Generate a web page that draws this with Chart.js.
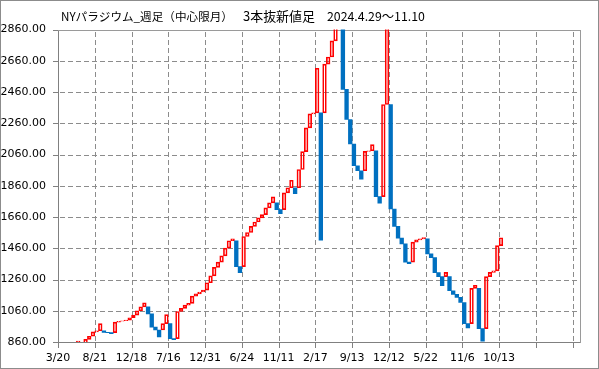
<!DOCTYPE html>
<html><head><meta charset="utf-8">
<script src="https://cdn.jsdelivr.net/npm/chart.js@4.4.0/dist/chart.umd.min.js"></script>
<style>html,body{margin:0;padding:0;background:#fff}canvas{display:block}</style>
</head><body>
<canvas id="c" width="599" height="369"></canvas>
<script>
const titleMain = 'NYパラジウム_週足（中心限月）';
const titleKind = '3本抜新値足';
const titlePeriod = '2024.4.29～11.10';
const tickLabels = ['3/20','8/21','12/18','7/16','12/31','6/24','11/11','2/17','9/13','12/12','5/22','11/6','10/13','',''];
// bar slot index = array position; null = no visible bar
const opens = [
  null,null,null,null,null, 858,null, 850, 877, 897,
  925, 932, 932, 922, 920, 920, 987, 993, 996,1000,
  1015,1032,1060,1085,1085,1040, 955, 937, 937, 978,
  978, 882, 882,1055,1075,1096,1107,1154,1168,1180,
  1192,1239,1283,1338,1371,1411,1461,1508,1508,1342,
  1342,1535,1561,1600,1628,1654,1675,1718,1750,1750,
  1707,1707,1814,1847,1847,1847,1964,2078,2230,2320,
  2326,2326,2326,2638,2684,2787,2880,2880,2477,2284,
  2127,1988,1956,1956,2080,2084,2084,1790,1790,2380,
  2380,1711,1600,1525,1488,1371,1371,1499,1514,1520,
  1520,1424,1400,1304,1278,1278,1278,1188,1165,1146,
  1113, 978, 978,1203,1203, 946, 946,1278,1306,1315,
  1477
];
const closes = [
  null,null,null,null,null, 866,null, 877, 897, 925,
  932, 978, 922, 920, 913, 987, 993, 996,1000,1015,
  1032,1060,1085,1110,1040, 955, 937, 892, 978,1035,
  882, 875,1055,1075,1096,1107,1154,1168,1180,1192,
  1239,1283,1338,1371,1411,1461,1508,1520,1342,1304,
  1535,1561,1600,1628,1654,1675,1718,1750,1789,1707,
  1681,1814,1847,1895,1810,1964,2078,2230,2320,2326,
  2612,1512,2638,2684,2787,2880,2990,2477,2284,2127,
  1988,1956,1902,2080,2084,2123,1790,1748,2380,2990,
  1711,1600,1525,1488,1371,1362,1499,1514,1520,1529,
  1424,1400,1304,1278,1220,1306,1188,1165,1146,1113,
  978, 950,1203,1223, 946, 866,1278,1306,1315,1477,
  1527
];

const upBars = [], downBars = [];
closes.forEach((c, i) => {
  const o = opens[i];
  if (c == null || o == null) return;
  (c >= o ? upBars : downBars).push({x: i + 0.5, y: [o, c]});
});

// grid (dashed), axes and frame drawn from the library's scales, under the bars
const gridPlugin = {
  id: 'gridDraw',
  beforeDatasetsDraw(chart) {
    const {ctx, chartArea: a} = chart;
    const xs = chart.scales.x, ys = chart.scales.y;
    const l = Math.round(a.left), r = Math.round(a.right), t = Math.round(a.top), b = Math.round(a.bottom);
    const xPix = xs.ticks.map((tk) => Math.round(xs.getPixelForValue(tk.value)));
    const yPix = ys.ticks.map((tk) => Math.round(ys.getPixelForValue(tk.value)));
    ctx.save();
    ctx.fillStyle = '#8c8c8c';
    xPix.forEach((px) => {
      if (px <= l || px >= r) return;
      for (let yy = t + 2; yy < b; yy += 8) ctx.fillRect(px, yy, 1, Math.min(5, b - yy));
    });
    yPix.forEach((py) => {
      if (py <= t || py >= b) return;
      for (let xx = l + 2; xx < r; xx += 8) ctx.fillRect(xx, py, Math.min(5, r - xx), 1);
    });
    ctx.fillStyle = '#808080';
    ctx.fillRect(l, t, 1, b - t + 1);
    ctx.fillRect(l, b, r - l + 1, 1);
    xPix.forEach((px) => ctx.fillRect(px, b, 1, 6));
    yPix.forEach((py) => ctx.fillRect(l - 5, py, 6, 1));
    ctx.fillStyle = '#9a9a9a';
    ctx.fillRect(l, t, r - l + 1, 1);
    ctx.fillRect(r, t, 1, b - t + 1);
    ctx.restore();
  },
  afterDraw(chart) {
    const {ctx, width, height} = chart;
    ctx.save();
    ctx.fillStyle = '#8c8c8c';
    ctx.fillRect(0, 0, width, 1);
    ctx.fillRect(0, height - 1, width, 1);
    ctx.fillRect(0, 0, 1, height);
    ctx.fillRect(width - 1, 0, 1, height);
    ctx.fillStyle = '#000';
    ctx.textBaseline = 'alphabetic';
    const fit = (text, target) => {
      ctx.font = '12px "Noto Sans CJK JP"';
      const w = ctx.measureText(text).width || target;
      const size = Math.max(10, Math.min(15, 12 * target / w));
      ctx.font = size.toFixed(2) + 'px "Noto Sans CJK JP"';
    };
    fit(titleMain, 172); ctx.fillText(titleMain, 61, 21);
    fit(titleKind, 72); ctx.fillText(titleKind, 243, 21);
    fit(titlePeriod, 98); ctx.fillText(titlePeriod, 327, 21);
    ctx.restore();
  }
};

const tickFont = {family: 'DejaVu Sans', size: 11};
const hiddenGrid = () => ({display: true, drawOnChartArea: false, drawTicks: true, tickLength: 5,
                           color: 'rgba(0,0,0,0)', tickColor: 'rgba(0,0,0,0)'});

new Chart(document.getElementById('c').getContext('2d'), {
  type: 'bar',
  data: {
    datasets: [
      {label: 'down', data: downBars, backgroundColor: '#0070c0', borderWidth: 0,
       grouped: false, barPercentage: 1, categoryPercentage: 1},
      {label: 'up', data: upBars, backgroundColor: 'rgba(255,255,255,0)', borderColor: '#ff0000',
       borderWidth: 1, borderSkipped: false, grouped: false, barPercentage: 1, categoryPercentage: 1}
    ]
  },
  options: {
    responsive: false, animation: false, devicePixelRatio: 1,
    layout: {padding: {left: 0, top: 29.5, right: 19, bottom: 0}},
    plugins: {legend: {display: false}, tooltip: {enabled: false}, title: {display: false}},
    scales: {
      x: {
        type: 'linear', min: 0, max: 142, offset: false,
        afterFit(s) { s.height = 27; },
        grid: hiddenGrid(), border: {display: false},
        ticks: {stepSize: 10, includeBounds: false, autoSkip: false, maxRotation: 0, padding: 5,
                color: '#000', font: tickFont,
                callback: (v) => tickLabels[Math.round(v / 10)] ?? ''}
      },
      y: {
        type: 'linear', min: 860, max: 2860,
        afterFit(s) { s.width = 58; },
        grid: hiddenGrid(), border: {display: false},
        ticks: {stepSize: 200, padding: 7, color: '#000', font: tickFont,
                callback: (v) => Number(v).toFixed(2)}
      }
    }
  },
  plugins: [gridPlugin]
});
</script>
</body></html>
